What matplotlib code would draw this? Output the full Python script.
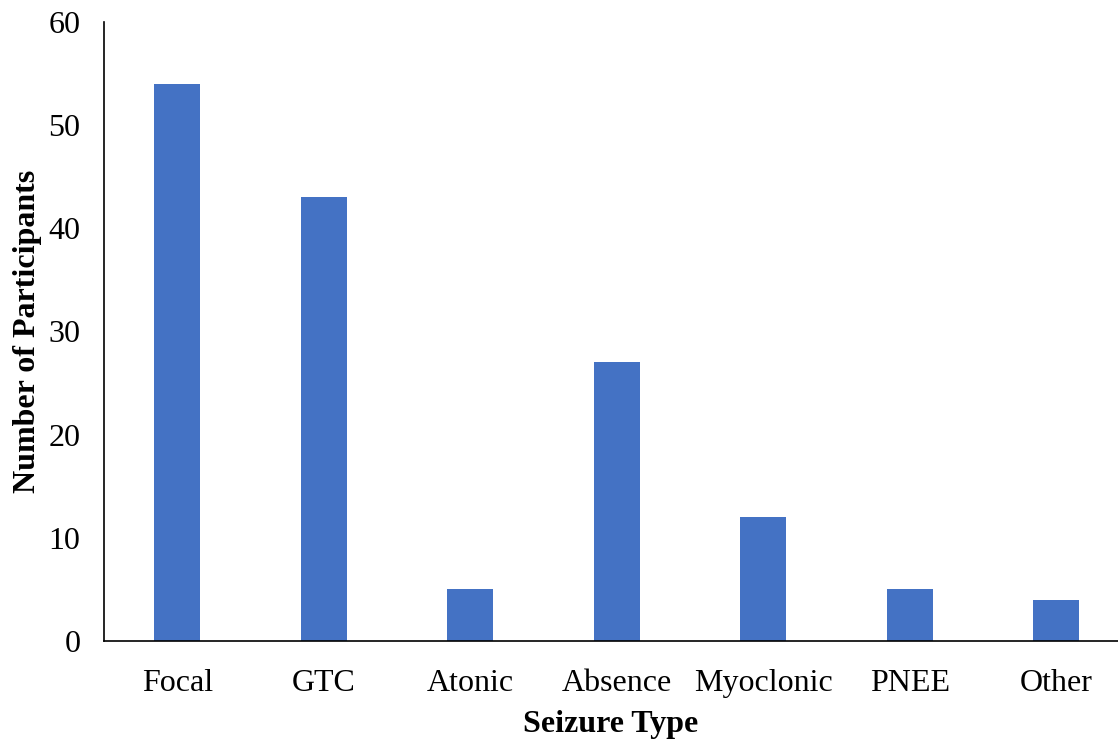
import matplotlib
matplotlib.use("Agg")
import matplotlib.pyplot as plt

categories = ["Focal", "GTC", "Atonic", "Absence", "Myoclonic", "PNEE", "Other"]
values = [54, 43, 5, 27, 12, 5, 4]

plt.rcParams['font.family'] = ['Liberation Serif', 'DejaVu Serif']

fig = plt.figure(figsize=(11.18, 7.41), dpi=100)
ax = fig.add_axes([104/1118, 1-641/741, 1-104/1118, (641-22)/741])
x = list(range(len(categories)))
ax.bar(x, values, width=0.314, color="#4472C4", zorder=2)
ax.set_xlim(-0.5, 6.42)
ax.set_ylim(0, 60)
ax.set_yticks([0, 10, 20, 30, 40, 50, 60])
ax.set_xticks(x)
ax.set_xticklabels(categories)
ax.tick_params(axis='both', length=0, labelsize=23)
ax.tick_params(axis='y', pad=17)
ax.tick_params(axis='x', pad=20)
for s in ['top', 'right']:
    ax.spines[s].set_visible(False)
for s in ['left', 'bottom']:
    ax.spines[s].set_linewidth(1.2)
ax.set_xlabel("Seizure Type", fontsize=23, fontweight='bold', labelpad=9)
ax.set_ylabel("Number of Participants", fontsize=23, fontweight='bold')
ax.yaxis.set_label_coords(-0.0615, 0.5)
fig.savefig("out.png", dpi=100)
